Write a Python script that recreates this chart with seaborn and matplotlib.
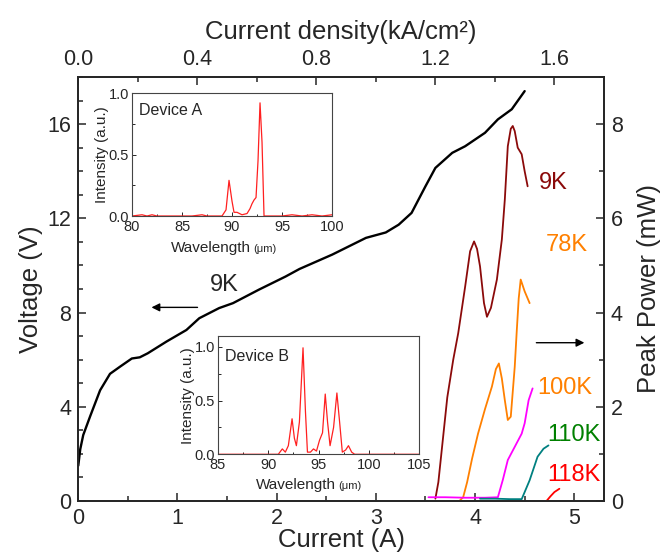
import seaborn as sns
import matplotlib.pyplot as plt
from matplotlib.ticker import MultipleLocator, FormatStrFormatter

# I-V curve at 9K (left axis)
iv_current = [0.00, 0.02, 0.05, 0.12, 0.22, 0.32, 0.42, 0.54, 0.62, 0.70, 0.89, 1.09, 1.22, 1.42,
              1.56, 1.82, 2.09, 2.23, 2.56, 2.90, 3.10, 3.23, 3.36, 3.50, 3.60, 3.77, 3.90, 4.10,
              4.23, 4.37, 4.50]
iv_voltage = [1.5, 2.2, 2.8, 3.6, 4.7, 5.4, 5.7, 6.05, 6.1, 6.27, 6.77, 7.26, 7.76, 8.19,
              8.40, 8.97, 9.53, 9.85, 10.46, 11.17, 11.40, 11.73, 12.23, 13.36, 14.14, 14.78, 15.06, 15.63,
              16.2, 16.63, 17.4]

# L-I curves (right axis)
p9_current = [3.60, 3.63, 3.67, 3.72, 3.78, 3.83, 3.90, 3.95, 3.99, 4.02, 4.05, 4.09, 4.12, 4.16,
              4.22, 4.27, 4.30, 4.33, 4.36, 4.38, 4.40, 4.43, 4.47, 4.50, 4.53]
p9_power = [0.05, 0.4, 1.2, 2.2, 3.0, 3.56, 4.55, 5.3, 5.51, 5.35, 4.98, 4.2, 3.91, 4.1,
            4.70, 5.55, 6.4, 7.53, 7.9, 7.96, 7.85, 7.50, 7.36, 7.0, 6.68]
p78_current = [3.85, 3.88, 3.92, 3.97, 4.03, 4.10, 4.17, 4.21, 4.24, 4.27, 4.30, 4.33, 4.36, 4.40,
               4.42, 4.44, 4.46, 4.50, 4.55]
p78_power = [0.02, 0.08, 0.4, 0.9, 1.43, 1.95, 2.43, 2.8, 2.92, 2.6, 2.14, 1.72, 1.79, 2.85,
             3.6, 4.3, 4.70, 4.45, 4.20]
p100_current = [3.53, 3.70, 3.90, 4.10, 4.23, 4.28, 4.33, 4.40, 4.47, 4.50, 4.54, 4.58]
p100_power = [0.08, 0.08, 0.07, 0.07, 0.08, 0.45, 0.87, 1.15, 1.43, 1.65, 2.14, 2.39]
p110_current = [4.05, 4.20, 4.35, 4.47, 4.55, 4.63, 4.69, 4.74]
p110_power = [0.05, 0.05, 0.04, 0.04, 0.44, 0.94, 1.11, 1.18]
p118_current = [4.72, 4.76, 4.80, 4.85]
p118_power = [0.0, 0.1, 0.19, 0.26]

# spectra for insets
wl_a = [80, 81, 81.5, 82, 82.5, 83, 84, 85, 86, 87, 87.5, 88, 89, 89.4, 89.7, 90.0, 90.2, 90.5,
        91, 91.5, 91.8, 92.0, 92.2, 92.4, 92.6, 92.8, 93.0, 93.2, 94, 95, 96, 97, 98, 99, 100]
int_a = [0.0, 0.01, 0.0, 0.01, 0.0, 0.0, 0.0, 0.0, 0.0, 0.01, 0.0, 0.0, 0.0, 0.05, 0.29, 0.12, 0.03, 0.03,
         0.01, 0.02, 0.06, 0.10, 0.13, 0.15, 0.45, 0.92, 0.6, 0.0, 0.0, 0.0, 0.01, 0.0, 0.01, 0.0, 0.01]
wl_b = [85, 88, 90, 91.0, 91.4, 91.7, 92.0, 92.37, 92.6, 92.8, 93.1, 93.46, 93.7, 93.9, 94.2, 94.5,
        94.8, 95.1, 95.4, 95.67, 95.9, 96.15, 96.5, 96.83, 97.1, 97.37, 97.7, 97.98, 98.3, 98.6,
        100, 102, 105]
int_b = [0.0, 0.0, 0.0, 0.0, 0.05, 0.02, 0.08, 0.33, 0.15, 0.08, 0.3, 0.99, 0.4, 0.02, 0.02, 0.05,
         0.03, 0.13, 0.2, 0.56, 0.3, 0.08, 0.25, 0.57, 0.3, 0.02, 0.04, 0.08, 0.02, 0.0,
         0.0, 0.0, 0.0]

sns.set_style('ticks', {'xtick.direction': 'in', 'ytick.direction': 'in'})
plt.rcParams['font.family'] = ['Liberation Sans', 'DejaVu Sans']
plt.rcParams['axes.linewidth'] = 1.1


def line(ax, x, y, color, lw):
    sns.lineplot(x=x, y=y, ax=ax, color=color, lw=lw, sort=False, estimator=None, legend=False)


def inset(rect, wl, inten, xlim, ylim, name, name_y, split):
    a = fig.add_axes(rect)
    line(a, wl, inten, '#ff2020', 0.9)
    a.set_xlim(*xlim)
    a.set_ylim(*ylim)
    a.xaxis.set_major_locator(MultipleLocator(5))
    a.xaxis.set_minor_locator(MultipleLocator(2.5))
    a.yaxis.set_major_locator(MultipleLocator(0.5))
    a.yaxis.set_minor_locator(MultipleLocator(0.25))
    a.yaxis.set_major_formatter(FormatStrFormatter('%.1f'))
    a.tick_params(which='both', direction='in', labelsize=10.5, pad=2, width=0.7)
    a.tick_params(axis='x', pad=3)
    a.tick_params(which='major', length=3)
    a.tick_params(which='minor', length=1.8)
    for s in a.spines.values():
        s.set_color('#444444')
        s.set_linewidth(0.8)
    a.set_ylabel('Intensity (a.u.)', fontsize=11, labelpad=0)
    a.set_xlabel('')
    a.text(split, -0.29, 'Wavelength', ha='right', va='baseline', fontsize=11,
           transform=a.transAxes)
    a.text(split + 0.01, -0.29, '(μm)', ha='left', va='baseline', fontsize=8,
           transform=a.transAxes)
    a.text(0.035, name_y, name, ha='left', va='center', fontsize=11.5, transform=a.transAxes)
    return a


fig = plt.figure(figsize=(6.65, 5.57), dpi=100)
ax = fig.add_axes([0.1177, 0.1005, 0.7906, 0.7613])

line(ax, iv_current, iv_voltage, 'black', 1.7)
ax.set_xlim(0, 5.3)
ax.set_ylim(0, 18)
ax.xaxis.set_major_locator(MultipleLocator(1))
ax.xaxis.set_minor_locator(MultipleLocator(0.5))
ax.yaxis.set_major_locator(MultipleLocator(4))
ax.yaxis.set_minor_locator(MultipleLocator(1))
ax.tick_params(which='both', direction='in', top=False, right=False, labelsize=15.5, pad=5, width=1.1)
ax.tick_params(which='major', length=6)
ax.tick_params(which='minor', length=3.5)
ax.set_xlabel('Current (A)', fontsize=18.5, labelpad=-1)
ax.set_ylabel('Voltage (V)', fontsize=18.5, labelpad=3)
ax.text(1.47, 9.17, '9K', fontsize=17, ha='center', va='center')
ax.annotate('', xy=(0.71, 8.22), xytext=(1.23, 8.22),
            arrowprops=dict(arrowstyle='-|>', color='black', lw=1, mutation_scale=12))

ax2 = ax.twinx()
line(ax2, p9_current, p9_power, '#8b0a0a', 1.3)
line(ax2, p78_current, p78_power, '#ff8000', 1.3)
line(ax2, p100_current, p100_power, '#ff00ff', 1.3)
line(ax2, p110_current, p110_power, '#008080', 1.3)
line(ax2, p118_current, p118_power, '#ff0000', 1.3)
ax2.set_ylim(0, 9)
ax2.yaxis.set_major_locator(MultipleLocator(2))
ax2.yaxis.set_minor_locator(MultipleLocator(1))
ax2.tick_params(which='both', direction='in', labelsize=15.5, pad=5, width=1.1)
ax2.tick_params(which='major', length=6)
ax2.tick_params(which='minor', length=3.5)
ax2.set_ylabel('Peak Power (mW)', fontsize=18.5, labelpad=10)
ax2.text(4.79, 6.76, '9K', color='#8b0a0a', fontsize=17, ha='center', va='center')
ax2.text(4.92, 5.44, '78K', color='#ff8000', fontsize=17, ha='center', va='center')
ax2.text(4.90, 2.40, '100K', color='#ff8000', fontsize=17, ha='center', va='center')
ax2.text(5.00, 1.40, '110K', color='#008000', fontsize=17, ha='center', va='center')
ax2.text(5.00, 0.55, '118K', color='#ff0000', fontsize=17, ha='center', va='center')
ax2.annotate('', xy=(5.13, 3.36), xytext=(4.59, 3.36),
             arrowprops=dict(arrowstyle='-|>', color='black', lw=1, mutation_scale=12))

ax3 = ax.twiny()
ax3.set_xlim(0, 5.3 / 3)
ax3.xaxis.set_major_locator(MultipleLocator(0.4))
ax3.xaxis.set_minor_locator(MultipleLocator(0.2))
ax3.xaxis.set_major_formatter(FormatStrFormatter('%.1f'))
ax3.tick_params(which='both', direction='in', labelsize=15.5, pad=5, width=1.1)
ax3.tick_params(which='major', length=6)
ax3.tick_params(which='minor', length=3.5)
ax3.set_xlabel('Current density(kA/cm²)', fontsize=18.5, labelpad=7)

inset([0.1985, 0.6122, 0.3008, 0.2208], wl_a, int_a, (80, 100), (0, 1.0), 'Device A', 0.86, 0.595)
inset([0.3278, 0.1844, 0.3023, 0.2124], wl_b, int_b, (85, 105), (0, 1.1), 'Device B', 0.83, 0.587)

plt.savefig('out.png', dpi=100)
